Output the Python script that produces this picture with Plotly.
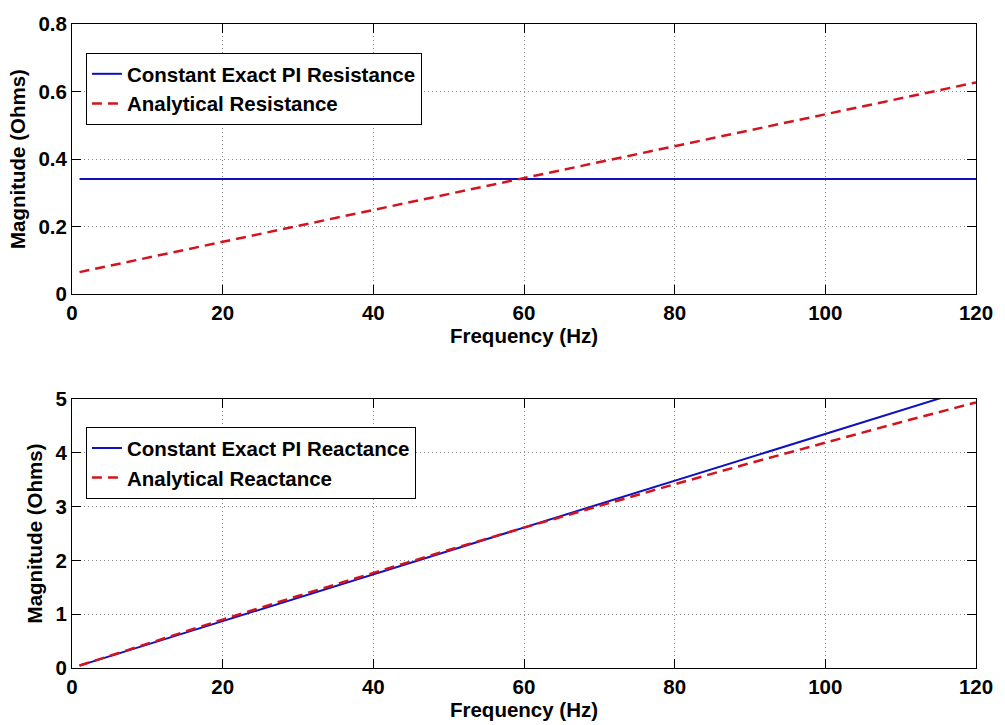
import plotly.graph_objects as go

# ---- data ----
freq_res = [1, 120]
res_exact = [0.341, 0.341]
res_analytic = [0.065, 0.627]

freq_reac = [1, 10, 20, 30, 40, 50, 60, 70, 80, 90, 100, 110, 120]
reac_exact = [0.044, 0.435, 0.87, 1.305, 1.74, 2.175, 2.61, 3.045, 3.48, 3.915, 4.35, 4.785, 5.22]
reac_analytic = [0.046, 0.454, 0.90, 1.339, 1.77, 2.193, 2.608, 3.015, 3.415, 3.807, 4.191, 4.567, 4.936]

x_ticks = [0, 20, 40, 60, 80, 100, 120]
y1_ticks = [0, 0.2, 0.4, 0.6, 0.8]
y1_labels = ["0", "0.2", "0.4", "0.6", "0.8"]
y2_ticks = [0, 1, 2, 3, 4, 5]

BLUE = "#1010c0"
RED = "#d3141e"
FONT = "Liberation Sans"
FS = 20.5

fig = go.Figure()
fig.add_trace(go.Scatter(x=freq_res, y=res_exact, mode="lines", name="Constant Exact PI Resistance",
                         line=dict(color=BLUE, width=2), xaxis="x", yaxis="y", legend="legend"))
fig.add_trace(go.Scatter(x=freq_res, y=res_analytic, mode="lines", name="Analytical Resistance",
                         line=dict(color=RED, width=2.5, dash="10px,6px"), xaxis="x", yaxis="y", legend="legend"))
fig.add_trace(go.Scatter(x=freq_reac, y=reac_exact, mode="lines", name="Constant Exact PI Reactance",
                         line=dict(color=BLUE, width=2), xaxis="x2", yaxis="y2", legend="legend2"))
fig.add_trace(go.Scatter(x=freq_reac, y=reac_analytic, mode="lines", name="Analytical Reactance",
                         line=dict(color=RED, width=2.5, dash="10px,6px"), xaxis="x2", yaxis="y2", legend="legend2"))

tickfont = dict(family=FONT, size=FS, color="black", weight="bold")
titlefont = dict(family=FONT, size=FS, color="black", weight="bold")

def xax(anchor):
    return dict(domain=[0, 1], anchor=anchor, range=[0, 120], tickvals=x_ticks,
                ticks="inside", ticklen=9, tickcolor="black", showline=True, linecolor="black",
                linewidth=1, mirror="ticks", showgrid=True, gridcolor="#8a8a8a", griddash="1px,3px",
                gridwidth=1, zeroline=False, tickfont=tickfont,
                title=dict(text="Frequency (Hz)", font=titlefont, standoff=1))

def yax(anchor, dom, rng, vals, labels=None):
    d = dict(domain=dom, anchor=anchor, range=rng, tickvals=vals,
             ticks="inside", ticklen=9, tickcolor="black", showline=True, linecolor="black",
             linewidth=1, mirror="ticks", showgrid=True, gridcolor="#8a8a8a", griddash="1px,3px",
             gridwidth=1, zeroline=False, tickfont=tickfont,
             title=dict(text="Magnitude (Ohms)", font=titlefont, standoff=7))
    if labels:
        d["ticktext"] = labels
    return d

legend_common = dict(xanchor="left", yanchor="top", bgcolor="white", bordercolor="black",
                     borderwidth=1, font=dict(family=FONT, size=FS, color="black", weight="bold"),
                     tracegroupgap=0, itemwidth=30)

fig.update_layout(
    width=1005, height=725,
    margin=dict(l=72, r=24, t=18, b=56),
    paper_bgcolor="white", plot_bgcolor="white",
    xaxis=xax("y"),
    yaxis=yax("x", [0.5806, 1], [0, 0.8], y1_ticks, y1_labels),
    xaxis2=xax("y2"),
    yaxis2=yax("x2", [0, 0.4178], [0, 5], y2_ticks),
    legend=dict(x=0.0154, y=0.955, **legend_common),
    legend2=dict(x=0.0154, y=0.374, **legend_common),
    showlegend=True,
)

fig.write_html("out.html")
